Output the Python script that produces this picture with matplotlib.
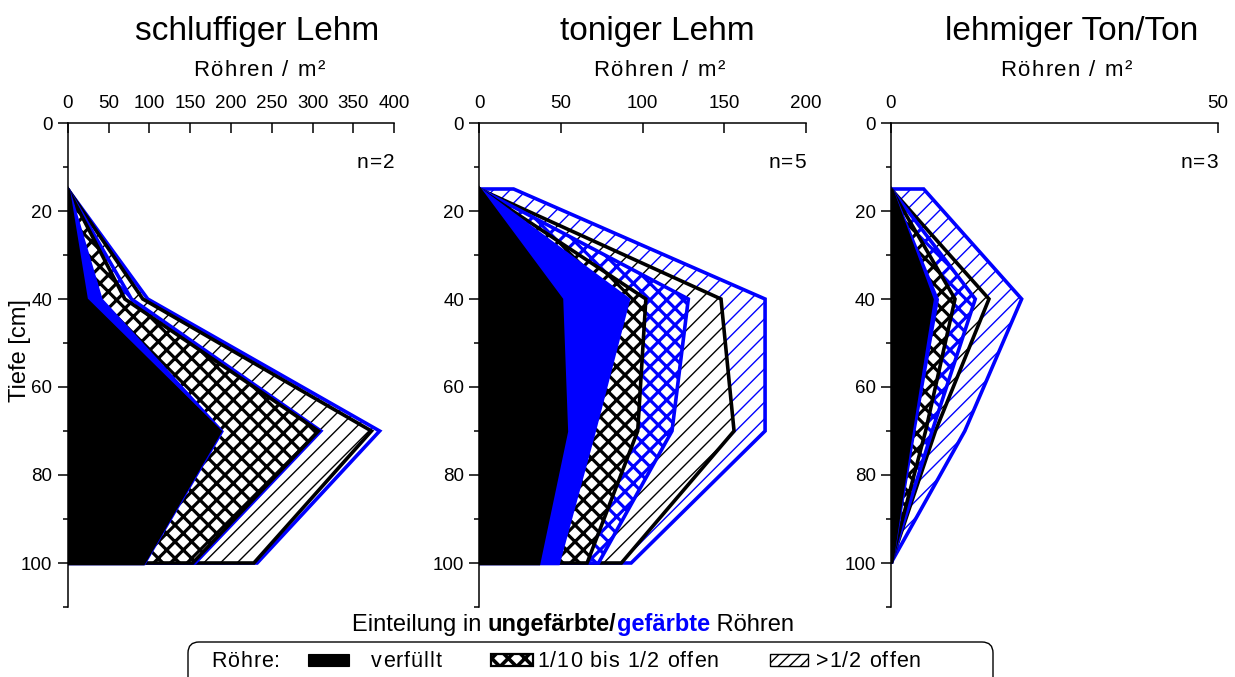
import matplotlib.pyplot as plt
from matplotlib.patches import FancyBboxPatch, Rectangle
from matplotlib.transforms import IdentityTransform
from matplotlib.ticker import MultipleLocator

plt.rcParams['font.family'] = ['Liberation Sans', 'DejaVu Sans']

W, H = 1235, 677
BLUE = '#0000ff'

depth = [15, 40, 70, 100]

# Röhren / m², cumulative from the inner class outwards
# u = ungefärbt, g = gefärbt
sl_verf_u = [0, 22, 186, 92]
sl_verf_g = [0, 40, 188, 93]
sl_teil_u = [0, 70, 307, 153]
sl_teil_g = [0, 78, 310, 156]
sl_offen_u = [0, 92, 372, 228]
sl_offen_g = [0, 98, 382, 232]

tl_verf_u = [0, 50, 53, 36]
tl_verf_g = [0, 91, 70, 48]
tl_teil_u = [0, 102, 97, 66]
tl_teil_g = [0, 128, 118, 73]
tl_offen_u = [0, 148, 156, 87]
tl_offen_g = [21, 175, 175, 93]

lt_verf_u = [0, 6.2, 3.0, 0]
lt_verf_g = [0, 7.0, 3.4, 0]
lt_teil_u = [0, 9.8, 5.3, 0]
lt_teil_g = [0, 12.9, 6.3, 0]
lt_offen_u = [0, 15.0, 6.8, 0]
lt_offen_g = [5, 20.0, 11.3, 0]

titles = ['schluffiger Lehm', 'toniger Lehm', 'lehmiger Ton/Ton']
n_labels = ['n=2', 'n=5', 'n=3']
x_max = [400, 200, 50]
x_step = [50, 50, 50]

panels = [
    [sl_offen_g, sl_offen_u, sl_teil_g, sl_teil_u, sl_verf_g, sl_verf_u],
    [tl_offen_g, tl_offen_u, tl_teil_g, tl_teil_u, tl_verf_g, tl_verf_u],
    [lt_offen_g, lt_offen_u, lt_teil_g, lt_teil_u, lt_verf_g, lt_verf_u],
]

# face, edge, hatch, hatch linewidth (outermost layer first)
layer_style = [
    ('white', BLUE, '//', 1.0),
    ('white', 'black', '//', 1.0),
    ('white', BLUE, 'xx', 2.3),
    ('white', 'black', 'xx', 2.3),
    (BLUE, BLUE, None, 1.0),
    ('black', 'black', None, 1.0),
]

fig = plt.figure(figsize=(W / 100, H / 100), dpi=100)
renderer = fig.canvas.get_renderer()


def px(x, y):
    return x / W, 1 - y / H


def text_w(s, size, **kw):
    t = fig.text(0, 0, s, fontsize=size, **kw)
    w = t.get_window_extent(renderer).width
    t.remove()
    return w


def spaced(x, y, s, size=15.5, track=1.0, ha='left', **kw):
    # letter-spaced text, x/y in pixels from the top left, y = baseline
    bar = text_w('|', size, **kw)
    offs = [text_w(s[:k] + '|', size, **kw) - bar if k else 0.0 for k in range(len(s))]
    total = text_w(s, size, **kw) + track * (len(s) - 1)
    if ha == 'center':
        x -= total / 2
    elif ha == 'right':
        x -= total
    for k, ch in enumerate(s):
        fig.text(*px(x + offs[k] + k * track, y), ch, fontsize=size, va='baseline',
                 ha='left', **kw)


def hatch_lw(artist, lw):
    if hasattr(artist, 'set_hatch_linewidth'):
        artist.set_hatch_linewidth(lw)


ax_left = [67.7, 479.3, 891.0]
ax_w = 326.6
ax_top, ax_bot = 123, 607

for i, ax_x in enumerate(ax_left):
    ax = fig.add_axes([ax_x / W, 1 - ax_bot / H, ax_w / W, (ax_bot - ax_top) / H])
    for vals, (face, edge, hatch, hlw) in zip(panels[i], layer_style):
        with plt.rc_context({'hatch.linewidth': hlw}):
            coll = ax.fill_betweenx(depth, 0, vals, facecolor=face, edgecolor=edge,
                                    hatch=hatch, linewidth=2.6, joinstyle='miter')
        hatch_lw(coll, hlw)

    ax.set_xlim(0, x_max[i])
    ax.set_ylim(110, 0)
    ax.spines['right'].set_visible(False)
    ax.spines['bottom'].set_visible(False)
    ax.spines['top'].set_linewidth(1.1)
    ax.spines['left'].set_linewidth(1.1)
    ax.xaxis.set_major_locator(MultipleLocator(x_step[i]))
    ax.xaxis.tick_top()
    ax.yaxis.set_minor_locator(MultipleLocator(10))
    ax.set_yticks([0, 20, 40, 60, 80, 100])
    ax.tick_params(axis='x', direction='in', length=7, width=1.1, labelsize=13.5, pad=8)
    ax.tick_params(axis='y', which='major', direction='out', length=7, width=1.1,
                   labelsize=13.5, pad=4)
    ax.tick_params(axis='y', which='minor', direction='out', length=3.6, width=1.1)
    ax.set_facecolor('none')
    spaced(ax_x + ax_w, 168, n_labels[i], size=15, ha='right')

title_x = [257, 657, 1072]
unit_x = [259, 659, 1066]
for i in range(3):
    fig.text(*px(title_x[i], 40), titles[i], ha='center', va='baseline', fontsize=24)
    spaced(unit_x[i], 76, 'Röhren / m²', size=16, track=1.5, ha='center')

fig.text(*px(20, 351), 'Tiefe [cm]', rotation=90, ha='center', va='center', fontsize=17)

# caption with bold / coloured parts
parts = [('Einteilung in ', 'normal', 'black'),
         ('ungefärbte/', 'bold', 'black'),
         ('gefärbte', 'bold', BLUE),
         (' Röhren', 'normal', 'black')]
bar = text_w('|', 17)
widths = [text_w(s + '|', 17, fontweight=wgt) - bar for s, wgt, _ in parts]
pos = 573 - sum(widths) / 2
for (s, wgt, col), w in zip(parts, widths):
    fig.text(*px(pos, 631), s, ha='left', va='baseline', fontsize=17,
             fontweight=wgt, color=col)
    pos += w

# legend box at the bottom edge
box = FancyBboxPatch((188, -12), 993 - 188, (H - 642) + 12,
                     boxstyle='round,pad=0,rounding_size=11',
                     transform=IdentityTransform(), facecolor='none',
                     edgecolor='black', linewidth=1.0)
fig.patches.append(box)

icon_y = H - 666
fig.patches.append(Rectangle((308, icon_y), 41, 12, transform=IdentityTransform(),
                             facecolor='black', edgecolor='black', linewidth=0.8))
with plt.rc_context({'hatch.linewidth': 2.6}):
    xh_icon = Rectangle((491, icon_y), 42, 12, transform=IdentityTransform(),
                        facecolor='white', edgecolor='black', hatch='xx', linewidth=1.6)
hatch_lw(xh_icon, 2.6)
fig.patches.append(xh_icon)
with plt.rc_context({'hatch.linewidth': 1.0}):
    h_icon = Rectangle((770, icon_y), 38, 12, transform=IdentityTransform(),
                       facecolor='white', edgecolor='black', hatch='///', linewidth=1.0)
hatch_lw(h_icon, 1.0)
fig.patches.append(h_icon)

for s, x in [('Röhre:', 211), ('verfüllt', 371), ('1/10 bis 1/2 offen', 537),
             ('>1/2 offen', 816)]:
    spaced(x, 667, s)

fig.savefig('out.png', dpi=100)
